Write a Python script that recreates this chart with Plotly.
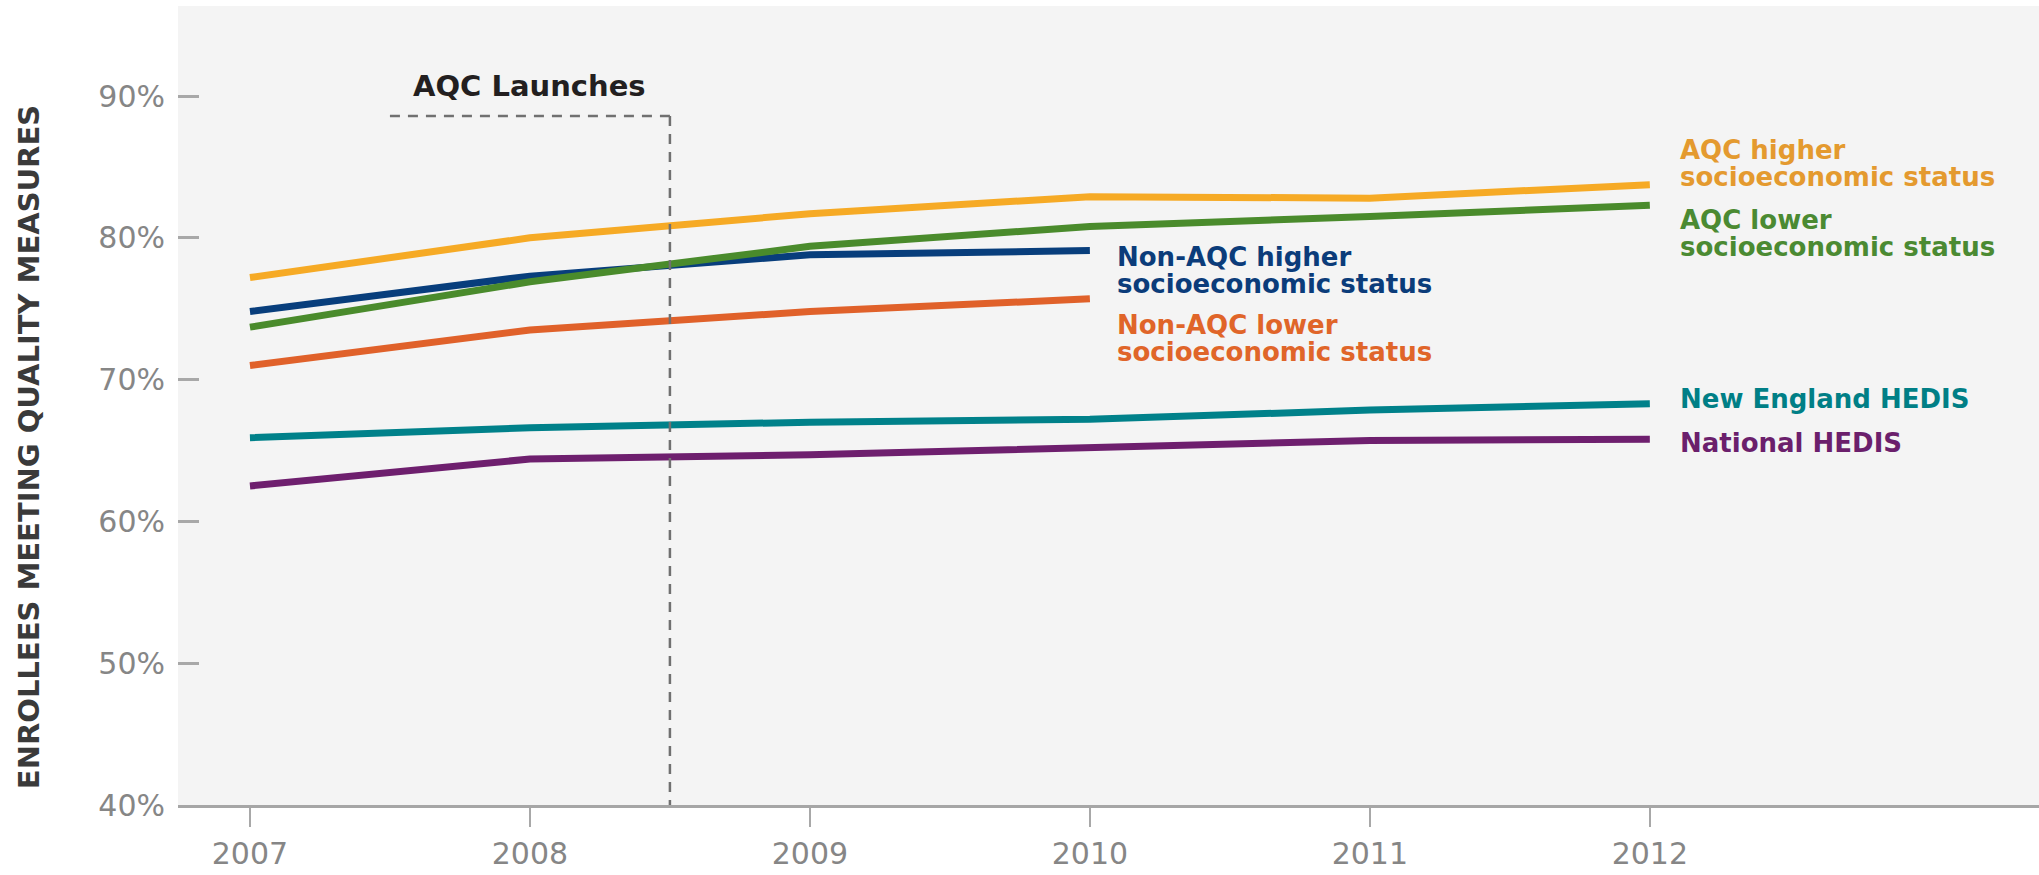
import plotly.graph_objects as go

# ---------------- data ----------------
years = [2007, 2008, 2009, 2010, 2011, 2012]
year_labels = ["2007", "2008", "2009", "2010", "2011", "2012"]

aqc_higher = [77.2, 80.0, 81.7, 82.9, 82.8, 83.75]
aqc_lower = [73.7, 76.9, 79.4, 80.8, 81.5, 82.3]
non_aqc_higher = [74.8, 77.3, 78.8, 79.1]
non_aqc_lower = [71.0, 73.5, 74.8, 75.7]
new_england_hedis = [65.9, 66.6, 67.0, 67.2, 67.85, 68.3]
national_hedis = [62.5, 64.4, 64.7, 65.2, 65.7, 65.8]

y_ticks = [40, 50, 60, 70, 80, 90]
y_tick_labels = ["40%", "50%", "60%", "70%", "80%", "90%"]

series_names = ["National HEDIS", "New England HEDIS",
                "Non-AQC lower<br>socioeconomic status",
                "Non-AQC higher<br>socioeconomic status",
                "AQC lower<br>socioeconomic status",
                "AQC higher<br>socioeconomic status"]
series_values = [national_hedis, new_england_hedis, non_aqc_lower,
                 non_aqc_higher, aqc_lower, aqc_higher]

launch_label = "AQC Launches"
launch_year = 2008.5
launch_bracket_start = 2007.5
launch_bracket_level = 88.6

y_title = "ENROLLEES MEETING QUALITY MEASURES"

# ---------------- styles ----------------
line_colors = ["#6E1F6E", "#00818A", "#E0612A", "#083E7C", "#4A8B2C", "#F6AA25"]
text_colors = ["#6B1F6C", "#007F86", "#E06529", "#0B3C7A", "#4B8A32", "#E49A2F"]
# label anchor (x, y of each line of text)
label_x = [2012.1, 2012.1, 2010.09, 2010.09, 2012.1, 2012.1]
label_y = [[65.55], [68.6], [73.86, 71.97], [78.64, 76.75],
           [81.25, 79.36], [86.2, 84.3]]

FONT = "DejaVu Sans"
TICK_COLOR = "#868686"

fig = go.Figure()

for name, vals, col in zip(series_names, series_values, line_colors):
    fig.add_trace(go.Scatter(
        x=years[:len(vals)], y=vals, mode="lines",
        name=name.replace("<br>", " "),
        line=dict(color=col, width=7),
        hoverinfo="skip", showlegend=False))

annotations = []
for name, col, lx, lys in zip(series_names, text_colors, label_x, label_y):
    for part, ly in zip(name.split("<br>"), lys):
        annotations.append(dict(
            x=lx, y=ly, xref="x", yref="y", text="<b>%s</b>" % part,
            showarrow=False, xanchor="left", yanchor="middle",
            font=dict(family=FONT, size=26, color=col)))

annotations.append(dict(
    x=2008, y=90.74, xref="x", yref="y", text="<b>%s</b>" % launch_label,
    showarrow=False, xanchor="center", yanchor="middle",
    font=dict(family=FONT, size=29, color="#231F20")))

annotations.append(dict(
    x=-0.080, y=0.448, xref="paper", yref="paper", text="<b>%s</b>" % y_title,
    showarrow=False, textangle=-90, xanchor="center", yanchor="middle",
    font=dict(family=FONT, size=29, color="#3A3A3A")))

shapes = [
    dict(type="line", xref="x", yref="y",
         x0=launch_bracket_start, x1=launch_year,
         y0=launch_bracket_level, y1=launch_bracket_level,
         line=dict(color="#707070", width=2.5, dash="10px,8px")),
    dict(type="line", xref="x", yref="y",
         x0=launch_year, x1=launch_year,
         y0=launch_bracket_level, y1=40,
         line=dict(color="#707070", width=2.5, dash="10px,8px")),
]

fig.update_layout(
    width=2039, height=875,
    margin=dict(l=178, r=0, t=6, b=70),
    paper_bgcolor="white", plot_bgcolor="#F4F4F4",
    annotations=annotations, shapes=shapes,
    xaxis=dict(range=[2006.743, 2013.39], tickvals=years, ticktext=year_labels,
               ticks="outside", ticklen=19, tickwidth=2, tickcolor="#A8A8A8",
               showline=True, linecolor="#A6A6A6", linewidth=3,
               showgrid=False, zeroline=False, ticklabelstandoff=1,
               automargin=False,
               tickfont=dict(family=FONT, size=30, color=TICK_COLOR)),
    yaxis=dict(range=[40, 96.35], tickvals=y_ticks, ticktext=y_tick_labels,
               ticks="inside", ticklen=21, tickwidth=2.5, tickcolor="#A8A8A8",
               showline=False, showgrid=False, zeroline=False,
               ticklabelstandoff=12, automargin=False,
               tickfont=dict(family=FONT, size=30, color=TICK_COLOR)),
)

fig.write_html("out.html")
